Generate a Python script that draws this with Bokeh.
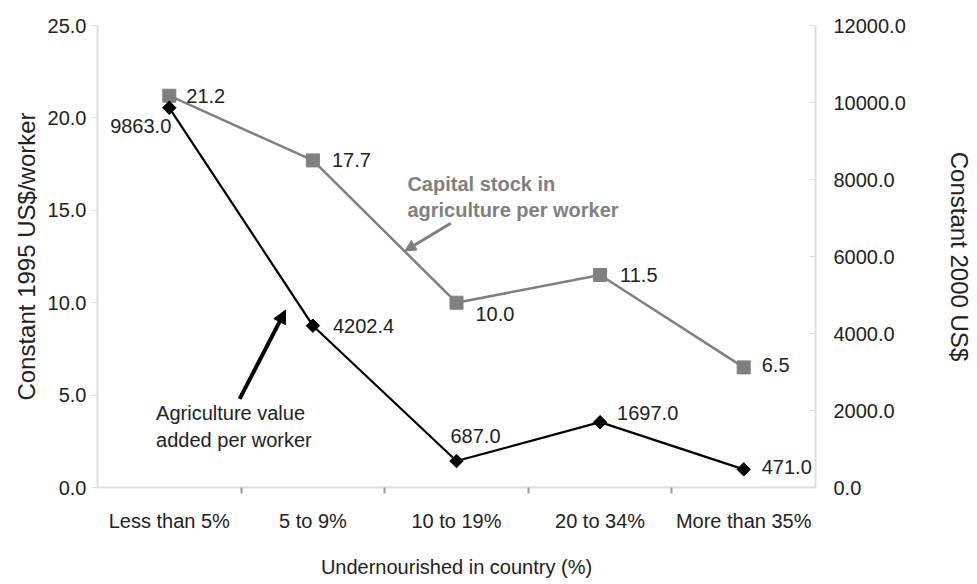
import math
from bokeh.plotting import figure
from bokeh.models import (Range1d, LinearAxis, FixedTicker, NumeralTickFormatter,
                          ColumnDataSource, Arrow, NormalHead, Label)
from bokeh.embed import file_html
from bokeh.resources import INLINE
from bokeh.core.properties import value

# ---- data ----
categories = ["Less than 5%", "5 to 9%", "10 to 19%", "20 to 34%", "More than 35%"]
capital_stock = [21.2, 17.7, 10.0, 11.5, 6.5]          # left axis (Constant 1995 US$/worker)
value_added = [9863.0, 4202.4, 687.0, 1697.0, 471.0]    # right axis (Constant 2000 US$)
left_ticks = [0, 5, 10, 15, 20, 25]
right_ticks = [0, 2000, 4000, 6000, 8000, 10000, 12000]

# ---- styles ----
FONT = "Liberation Sans"
GRAY = "#808080"
TXT = "#222222"
AXIS = "#dedede"

xs = [i + 0.5 for i in range(len(categories))]

p = figure(width=975, height=580, output_backend="svg", toolbar_location=None,
           x_range=Range1d(0, len(categories)), y_range=Range1d(0, 25),
           min_border_left=97, min_border_right=155, min_border_top=25,
           min_border_bottom=93, background_fill_color="white",
           border_fill_color="white")
p.outline_line_color = None
p.grid.visible = False
p.extra_y_ranges = {"right": Range1d(0, 12000)}

# x axis
xa = p.xaxis[0]
xa.ticker = FixedTicker(ticks=xs, minor_ticks=list(range(1, len(categories))))
xa.major_label_overrides = {x: c for x, c in zip(xs, categories)}
xa.major_tick_line_color = None
xa.major_tick_out = 6
xa.major_tick_in = 0
xa.minor_tick_line_color = "#9a9a9a"
xa.minor_tick_line_width = 2
xa.minor_tick_in = 0
xa.minor_tick_out = 6
xa.axis_line_color = AXIS
xa.axis_line_width = 2
xa.major_label_standoff = 16
xa.axis_label = "Undernourished in country (%)"
xa.axis_label_standoff = 21

# left y axis
ya = p.yaxis[0]
ya.ticker = FixedTicker(ticks=left_ticks)
ya.formatter = NumeralTickFormatter(format="0.0")
ya.axis_line_color = AXIS
ya.axis_line_width = 2
ya.major_tick_line_color = AXIS
ya.major_tick_in = 0
ya.major_tick_out = 6
ya.minor_tick_line_color = None
ya.major_label_standoff = 5
ya.axis_label = "Constant 1995 US$/worker"
ya.axis_label_standoff = 5

# right y axis
ra = LinearAxis(y_range_name="right", ticker=FixedTicker(ticks=right_ticks),
                formatter=NumeralTickFormatter(format="0.0"))
ra.axis_line_color = AXIS
ra.axis_line_width = 2
ra.major_tick_line_color = AXIS
ra.major_tick_in = 6
ra.major_tick_out = 0
ra.minor_tick_line_color = None
ra.major_label_standoff = 18
ra.axis_label = "Constant 2000 US$"
ra.axis_label_standoff = 37
p.add_layout(ra, "right")

for ax in (xa, ya, ra):
    ax.major_label_text_font = FONT
    ax.major_label_text_font_size = "20px"
    ax.major_label_text_color = TXT
    ax.axis_label_text_font = FONT
    ax.axis_label_text_font_style = "normal"
    ax.axis_label_text_color = TXT
xa.axis_label_text_font_size = "20px"
ya.axis_label_text_font_size = "24px"
ra.axis_label_text_font_size = "24px"

# series
p.line(xs, capital_stock, line_color=GRAY, line_width=2.5)
p.scatter(xs, capital_stock, marker="square", size=13, fill_color=GRAY, line_color=GRAY)
p.line(xs, value_added, y_range_name="right", line_color="black", line_width=2.2)
p.scatter(xs, value_added, y_range_name="right", marker="square", angle=math.pi / 4,
          size=9.5, fill_color="black", line_color="black")

# data labels (offsets in screen pixels)
cap_src = ColumnDataSource(dict(x=xs, y=capital_stock,
                                t=["%.1f" % v for v in capital_stock],
                                dx=[17, 19, 19, 20, 18], dy=[0, 0, 11, 0, -2]))
p.text("x", "y", text="t", source=cap_src, x_offset="dx", y_offset="dy",
       text_font=value(FONT), text_font_size="20px", text_color=TXT,
       text_baseline="middle", text_align="left")

va_src = ColumnDataSource(dict(x=xs, y=value_added,
                               t=["%.1f" % v for v in value_added],
                               dx=[2, 20, -6, 17, 18], dy=[18, 0, -25, -9, -2],
                               al=["right", "left", "left", "left", "left"]))
p.text("x", "y", text="t", source=va_src, x_offset="dx", y_offset="dy",
       y_range_name="right", text_align="al",
       text_font=value(FONT), text_font_size="20px", text_color=TXT,
       text_baseline="middle")

# annotations
p.add_layout(Label(x=2.158, y=17.0, text="Capital stock in\nagriculture per worker",
                   text_font=FONT, text_font_size="20px", text_font_style="bold",
                   text_color=GRAY, text_baseline="top", text_line_height=1.15))
p.add_layout(Arrow(x_start=2.46, y_start=14.3, x_end=2.14, y_end=12.8,
                   line_color=GRAY, line_width=3,
                   end=NormalHead(size=11, fill_color=GRAY, line_color=GRAY)))

p.add_layout(Label(x=0.408, y=4.65, text="Agriculture value\nadded per worker",
                   text_font=FONT, text_font_size="20px", text_color=TXT,
                   text_baseline="top", text_line_height=1.25))
p.add_layout(Arrow(x_start=0.99, y_start=4.8, x_end=1.31, y_end=9.6,
                   line_color="black", line_width=4,
                   end=NormalHead(size=13, fill_color="black", line_color="black")))

open("out.html", "w").write(file_html(p, INLINE))
